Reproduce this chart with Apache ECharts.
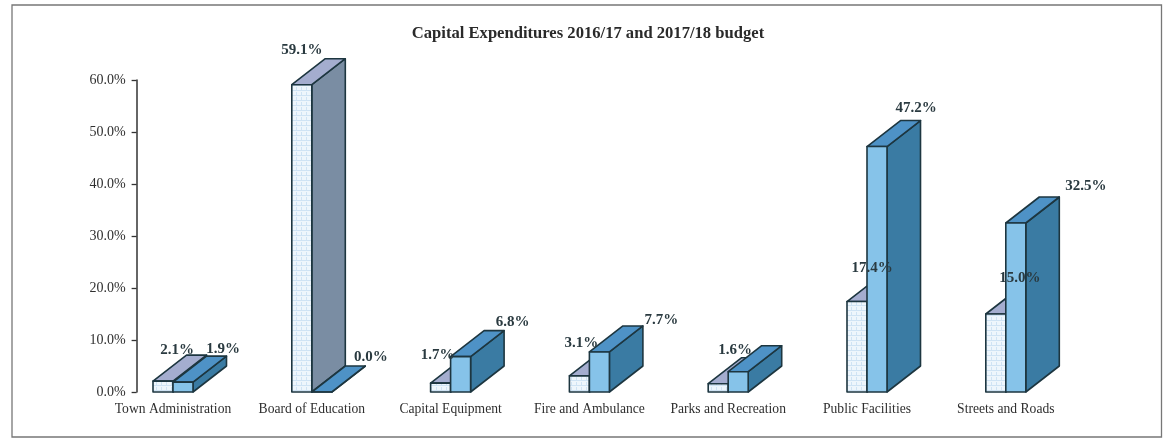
<!DOCTYPE html>
<html>
<head>
<meta charset="utf-8">
<style>html,body{margin:0;padding:0;background:#fff}#chart{width:1163px;height:438px}</style>
<script src="https://cdn.jsdelivr.net/npm/echarts@6/dist/echarts.min.js"></script>
</head>
<body>
<div id="chart"></div>
<script>
// Capital expenditure shares by department, percent of each year's budget
const categories = ['Town Administration', 'Board of Education', 'Capital Equipment', 'Fire and Ambulance', 'Parks and Recreation', 'Public Facilities', 'Streets and Roads'];
const budget201617 = [2.1, 59.1, 1.7, 3.1, 1.6, 17.4, 15.0];
const budget201718 = [1.9, 0.0, 6.8, 7.7, 3.9, 47.2, 32.5];
const unlabelled201718 = [4];
const yTicks = [0, 10, 20, 30, 40, 50, 60];

// Label placement relative to the top of each bar pair's centre line [dx, dy]
const labelNudge201617 = [[4, -31], [-10, -35], [-13, -28], [-8, -33], [7, -34], [5, -33], [14, -36]];
const labelNudge201718 = [[50, -33], [59, -35], [62, -35], [72, -32], [0, 0], [49, -38], [80, -37]];

const serifFont = '"Liberation Serif", "Times New Roman", serif';
const inkColor = '#1d3640';
const depthX = 33.5;
const depthY = 26;
const barWidth = 20;

// Pale dotted fill used on the front face of the earlier year's bars
function dottedFill() {
  const c = document.createElement('canvas');
  c.width = 5; c.height = 5;
  const g = c.getContext('2d');
  g.fillStyle = '#eef6fc';
  g.fillRect(0, 0, 5, 5);
  g.fillStyle = '#cfe3f4';
  g.fillRect(0, 0, 5, 1);
  g.fillRect(1, 2, 1, 3);
  return { image: c, repeat: 'repeat' };
}

const palette201617 = { front: dottedFill(), top: '#a4adcf', side: '#7a8da3' };
const palette201718 = { front: '#86c3e9', top: '#4e92c6', side: '#3a7ba3' };

function barRenderer(colors, shift) {
  return function (params, api) {
    const i = api.value(0);
    const base = api.coord([i, 0]);
    const head = api.coord([i, api.value(1)]);
    const x0 = base[0] + shift;
    const x1 = x0 + barWidth;
    const y0 = base[1];
    const y1 = head[1];
    const edge = { stroke: inkColor, lineWidth: 1.6, lineJoin: 'round' };
    const face = (pts, fill) => ({
      type: 'polygon',
      shape: { points: pts },
      style: Object.assign({ fill: fill }, edge)
    });
    return {
      type: 'group',
      children: [
        face([[x1, y0], [x1 + depthX, y0 - depthY], [x1 + depthX, y1 - depthY], [x1, y1]], colors.side),
        face([[x0, y1], [x1, y1], [x1 + depthX, y1 - depthY], [x0 + depthX, y1 - depthY]], colors.top),
        face([[x0, y0], [x1, y0], [x1, y1], [x0, y1]], colors.front)
      ]
    };
  };
}

// Value labels sit above every bar, so they are added in a later pass
function labelRenderer(nudges, skipped) {
  return function (params, api) {
    const i = api.value(0);
    if (skipped.indexOf(i) >= 0) return null;
    const head = api.coord([i, api.value(1)]);
    const nudge = nudges[i];
    return {
      type: 'text',
      x: head[0] + nudge[0],
      y: head[1] + nudge[1],
      style: {
        text: api.value(1).toFixed(1) + '%',
        fill: '#2a3a40',
        font: 'bold 15px ' + serifFont,
        textAlign: 'center',
        textVerticalAlign: 'middle'
      }
    };
  };
}

const rows = (values) => values.map((v, i) => [i, v]);

const chart = echarts.init(document.getElementById('chart'), null, { renderer: 'canvas' });
chart.setOption({
  animation: false,
  backgroundColor: '#fff',
  title: {
    text: 'Capital Expenditures 2016/17 and 2017/18 budget',
    left: 583,
    top: 20,
    textAlign: 'center',
    textStyle: { fontFamily: serifFont, fontSize: 16.6, fontWeight: 'bold', color: '#2a2a2a' }
  },
  graphic: [{
    type: 'rect',
    silent: true,
    shape: { x: 12, y: 5, width: 1149.5, height: 432 },
    style: { fill: 'none', stroke: '#777', lineWidth: 1.3 }
  }],
  grid: { left: 103.6, top: 80, width: 971.6, height: 312 },
  xAxis: {
    type: 'category',
    data: categories,
    axisLine: { show: false },
    axisTick: { show: false },
    axisLabel: { interval: 0, margin: 10, color: '#2f2f2f', fontFamily: serifFont, fontSize: 13.6 }
  },
  yAxis: {
    type: 'value',
    min: yTicks[0],
    max: yTicks[yTicks.length - 1],
    interval: yTicks[1] - yTicks[0],
    offset: -33,
    splitLine: { show: false },
    axisLine: { show: true, lineStyle: { color: '#333', width: 1.5 } },
    axisTick: { show: true, length: 5, lineStyle: { color: '#333', width: 1.3 } },
    axisLabel: {
      margin: 11,
      color: '#2f2f2f',
      fontFamily: serifFont,
      fontSize: 14,
      formatter: (v) => v.toFixed(1) + '%'
    }
  },
  series: [
    { type: 'custom', z: 2, data: rows(budget201617), encode: { x: 0, y: 1 }, clip: false,
      renderItem: barRenderer(palette201617, -barWidth) },
    { type: 'custom', z: 3, data: rows(budget201718), encode: { x: 0, y: 1 }, clip: false,
      renderItem: barRenderer(palette201718, 0) },
    { type: 'custom', z: 4, data: rows(budget201617), encode: { x: 0, y: 1 }, clip: false,
      renderItem: labelRenderer(labelNudge201617, []) },
    { type: 'custom', z: 4, data: rows(budget201718), encode: { x: 0, y: 1 }, clip: false,
      renderItem: labelRenderer(labelNudge201718, unlabelled201718) }
  ]
});
</script>
</body>
</html>
